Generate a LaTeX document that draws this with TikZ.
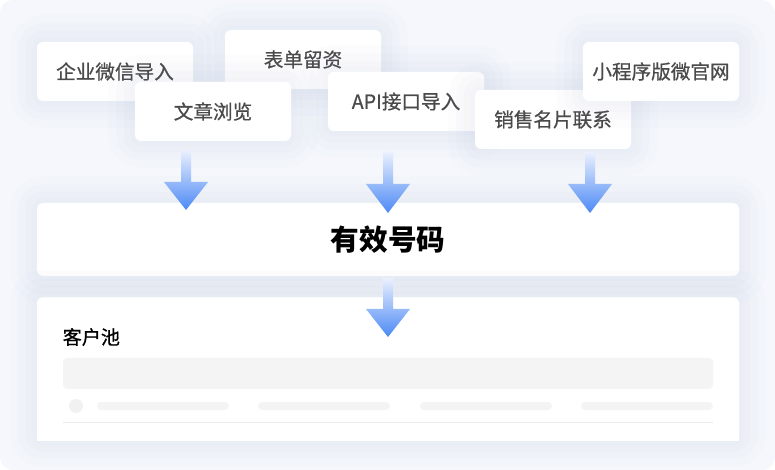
\documentclass[tikz,border=0pt]{standalone}
\usepackage{fontspec}
\setmainfont{Noto Sans CJK SC}
\newfontfamily\cjkmed[FakeBold=0.7]{Noto Sans CJK SC}
\usetikzlibrary{calc}
\definecolor{bgc}{HTML}{F5F7FC}
\definecolor{shadowc}{HTML}{7F93C8}
\definecolor{labelc}{HTML}{4A4A4A}
\definecolor{phc}{HTML}{F4F4F4}
\definecolor{phline}{HTML}{EAEAEA}
\definecolor{arrtop}{HTML}{EAF0FE}
\definecolor{arrmid}{HTML}{93B8FA}
\definecolor{arrbot}{HTML}{4C89F5}
\tikzset{
  softshadow/.style={
    preaction={draw=shadowc, draw opacity=0.02, line width=40pt},
    preaction={draw=shadowc, draw opacity=0.025, line width=28pt},
    preaction={draw=shadowc, draw opacity=0.025, line width=17pt},
    preaction={draw=shadowc, draw opacity=0.02, line width=7pt}},
  card/.style={softshadow, fill=white, rounded corners=4.5pt, inner sep=0pt,
    minimum width=117pt, minimum height=44.25pt, font=\fontsize{14.7pt}{16pt}\cjkmed, text=labelc},
  widecard/.style={softshadow, fill=white, rounded corners=4.5pt, inner sep=0pt,
    minimum width=526.5pt, minimum height=54.75pt},
  phbar/.style={fill=phc, rounded corners=3pt}
}
\newcommand\flowarrow[4]{%
  \shade[top color=arrtop, middle color=arrmid, bottom color=arrbot]
    (#1-5,#2) -- (#1+5,#2) -- (#1+5,#3) -- (#1+22,#3) -- (#1,#4)
    -- (#1-22,#3) -- (#1-5,#3) -- cycle;}
\begin{document}
\begin{tikzpicture}[x=0.75pt,y=-0.75pt]
\useasboundingbox (0,0) rectangle (775,470);
\fill[white] (0,0) rectangle (775,470);
\fill[bgc, rounded corners=10pt] (0,0) rectangle (775,470);

% source cards
\node[card] (qiye) at (115,71.5) {企业微信导入};
\node[card] (biaodan) at (303,59.5) {表单留资};
\node[card] (wenzhang) at (213,111.5) {文章浏览};
\node[card] (api) at (406,101.5) {API接口导入};
\node[card] (xiaoshou) at (553,119.5) {销售名片联系};
\node[card] (xcx) at (661,71.5) {小程序版微官网};

% valid numbers
\node[widecard] (valid) at (388,239.5) {};
\node[font=\fontsize{21.5pt}{24pt}\selectfont\bfseries, text=black] (validtxt) at (valid.center) {有效号码};

% customer pool card
\node[softshadow, fill=white, rounded corners=4.5pt, inner sep=0pt,
  minimum width=526.5pt, minimum height=107.25pt, anchor=north] (pool) at (388,297) {};
\fill[white] (pool.south west) rectangle (pool.east);
\node[anchor=west, inner sep=0pt, font=\fontsize{14.3pt}{16pt}\cjkmed, text=black] (pooltxt) at (62.5,337) {客户池};
\fill[phbar] (63,358) rectangle (713,389);
\fill[phc!70!phline] (76,406) circle [radius=5.25pt];
\fill[phbar] (97,402) rectangle (229,410);
\fill[phbar] (258,402) rectangle (390,410);
\fill[phbar] (420,402) rectangle (552,410);
\fill[phbar] (581,402) rectangle (713,410);
\draw[phline, line width=0.75pt] (63,422) -- (713,422);

% arrows
\flowarrow{186}{150}{182}{210}
\flowarrow{388}{152}{184}{213}
\flowarrow{590}{152}{184}{213}
\flowarrow{388}{278}{309}{337}
\end{tikzpicture}
\end{document}
